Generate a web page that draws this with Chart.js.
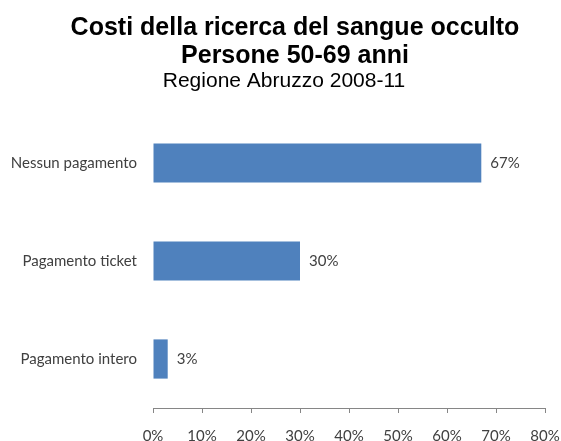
<!DOCTYPE html>
<html>
<head>
<meta charset="utf-8">
<script src="https://cdn.jsdelivr.net/npm/chart.js@4/dist/chart.umd.min.js"></script>
<style>
  html, body { margin: 0; padding: 0; background: #fff; }
  #wrap { width: 561px; height: 441px; }
</style>
</head>
<body>
<div id="wrap"><canvas id="costChart" width="561" height="441"></canvas></div>
<script>
  const categories = ['Nessun pagamento', 'Pagamento ticket', 'Pagamento intero'];
  const percentages = [67, 30, 3];
  const tickValues = [0, 10, 20, 30, 40, 50, 60, 70, 80];
  const titleLines = ['Costi della ricerca del sangue occulto', 'Persone 50-69 anni'];
  const subtitleText = 'Regione Abruzzo 2008-11';

  const labelFont = "Lato, 'Open Sans', sans-serif";
  const titleFont = "'Liberation Sans', Arial, sans-serif";
  const textGray = '#404040';

  // heading block, drawn by hand so it can sit a little right of centre
  const heading = {
    id: 'heading',
    afterDraw(chart) {
      const ctx = chart.ctx;
      ctx.save();
      ctx.fillStyle = '#000';
      ctx.textAlign = 'center';
      ctx.textBaseline = 'alphabetic';
      ctx.font = 'bold 25px ' + titleFont;
      ctx.fillText(titleLines[0], 295, 35);
      ctx.fillText(titleLines[1], 295, 63);
      ctx.font = '21px ' + titleFont;
      ctx.fillText(subtitleText, 284, 87);
      ctx.restore();
    }
  };

  // writes "nn%" just past the end of each bar
  const valueLabels = {
    id: 'valueLabels',
    afterDatasetsDraw(chart) {
      const ctx = chart.ctx;
      const meta = chart.getDatasetMeta(0);
      ctx.save();
      ctx.font = '15px ' + labelFont;
      ctx.fillStyle = textGray;
      ctx.textBaseline = 'middle';
      ctx.textAlign = 'left';
      meta.data.forEach((bar, i) => {
        ctx.fillText(percentages[i] + '%', bar.x + 9, bar.y);
      });
      ctx.restore();
    }
  };

  const ctx = document.getElementById('costChart').getContext('2d');
  new Chart(ctx, {
    type: 'bar',
    data: {
      labels: categories,
      datasets: [{
        data: percentages,
        backgroundColor: '#4F81BD',
        borderWidth: 0,
        categoryPercentage: 1,
        barPercentage: 0.4
      }]
    },
    options: {
      indexAxis: 'y',
      responsive: false,
      animation: false,
      layout: { padding: { left: 0, right: 16, top: 114, bottom: 0 } },
      plugins: {
        legend: { display: false },
        tooltip: { enabled: false },
        title: { display: false }
      },
      scales: {
        x: {
          min: 0,
          max: 80,
          afterBuildTicks(scale) {
            scale.ticks = tickValues.map(v => ({ value: v }));
          },
          afterFit(scale) {
            scale.height = 33;
            scale.paddingLeft = 0;
            scale.paddingRight = 0;
          },
          grid: {
            display: true,
            drawOnChartArea: false,
            drawTicks: true,
            tickLength: 5,
            color: '#868686'
          },
          border: { display: true, color: '#868686' },
          ticks: {
            padding: 14,
            color: textGray,
            font: { family: labelFont, size: 15 },
            callback: v => v + '%'
          }
        },
        y: {
          afterFit(scale) { scale.width = 153; },
          grid: { display: false },
          border: { display: false },
          ticks: {
            padding: 8,
            color: textGray,
            font: { family: labelFont, size: 15 }
          }
        }
      }
    },
    plugins: [valueLabels, heading]
  });
</script>
</body>
</html>
